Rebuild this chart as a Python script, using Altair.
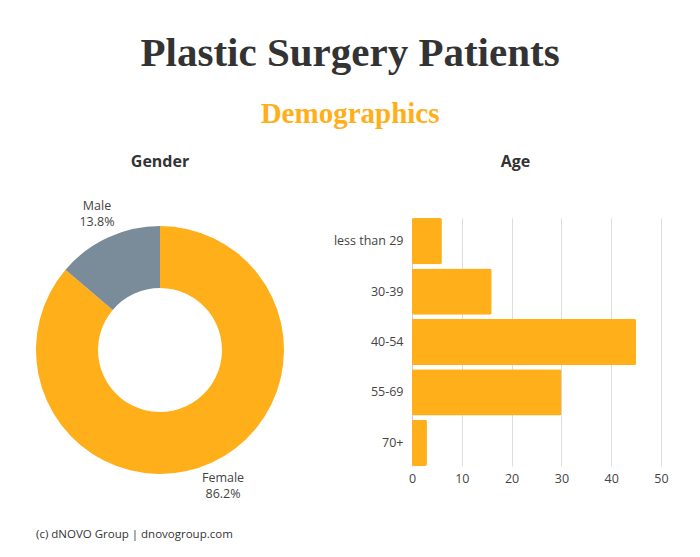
import altair as alt
import pandas as pd

genders = ["Female", "Male"]
gender_pct = [86.2, 13.8]
gender_colors = ["#FFAF1A", "#7A8C99"]

age_groups = ["less than 29", "30-39", "40-54", "55-69", "70+"]
age_values = [6, 16, 45, 30, 3]
x_ticks = [0, 10, 20, 30, 40, 50]

footer_text = ["(c) dNOVO Group | dnovogroup.com"]

ORANGE = "#FFAF1A"
TEXT = "#444444"
DARK = "#333333"
FONT = "Open Sans"
SERIF = "Liberation Serif"

gdf = pd.DataFrame({"gender": genders, "pct": gender_pct, "order": list(range(len(genders)))})
gdf["label"] = [f"{g}\n{p}%" for g, p in zip(genders, gender_pct)]

base = alt.Chart(gdf).encode(
    theta=alt.Theta("pct:Q", stack=True),
    order=alt.Order("order:Q"),
)
arcs = base.mark_arc(outerRadius=124, innerRadius=62).encode(
    color=alt.Color("gender:N", scale=alt.Scale(domain=genders, range=gender_colors), legend=None)
)
labels = base.mark_text(radius=150, lineBreak="\n", fontSize=12.5, font=FONT, color=TEXT,
                        lineHeight=16, dy=-8).encode(
    text="label:N"
)
footer = alt.Chart(pd.DataFrame({"t": footer_text})).mark_text(
    align="left", baseline="alphabetic", fontSize=11.5, font=FONT, color=DARK
).encode(text="t:N", x=alt.value(28), y=alt.value(320))

panel_title = dict(font=FONT, fontSize=16, fontWeight="bold", color=DARK, anchor="middle")

donut = alt.layer(arcs, labels, footer).properties(
    width=304, height=264, title=alt.TitleParams("Gender", offset=30, **panel_title)
)

adf = pd.DataFrame({"age": age_groups, "count": age_values})
bars = alt.Chart(adf).mark_bar(color=ORANGE, cornerRadius=2).encode(
    x=alt.X(
        "count:Q",
        scale=alt.Scale(domain=[0, 50], nice=False),
        axis=alt.Axis(values=x_ticks, title=None, grid=True, gridColor="#dddddd", domain=False,
                      ticks=False, labelFontSize=12.5, labelColor=TEXT, labelFont=FONT, labelPadding=6,
                      labelFlush=False),
    ),
    y=alt.Y(
        "age:N", sort=age_groups,
        scale=alt.Scale(paddingInner=0.08, paddingOuter=0.0),
        axis=alt.Axis(title=None, ticks=False, domain=True, domainColor="#cccccc", labelFontSize=12.5,
                      labelColor=TEXT, labelFont=FONT, labelPadding=9),
    ),
).properties(width=249, height=248, title=alt.TitleParams("Age", offset=48, dx=-21, **panel_title))

chart = alt.hconcat(donut, bars, spacing=21).properties(
    title=alt.TitleParams(
        text="Plastic Surgery Patients",
        subtitle="Demographics",
        font=SERIF, fontSize=41, fontWeight="bold", color=DARK,
        subtitleFont=SERIF, subtitleFontSize=29, subtitleFontWeight="bold",
        subtitleColor=ORANGE, subtitlePadding=25, anchor="middle", offset=24, dx=12,
    ),
    padding={"left": 0, "top": 24, "right": 0, "bottom": 0},
).configure_view(stroke=None)

chart.save("out.html", embed_options={"renderer": "svg", "actions": False})
